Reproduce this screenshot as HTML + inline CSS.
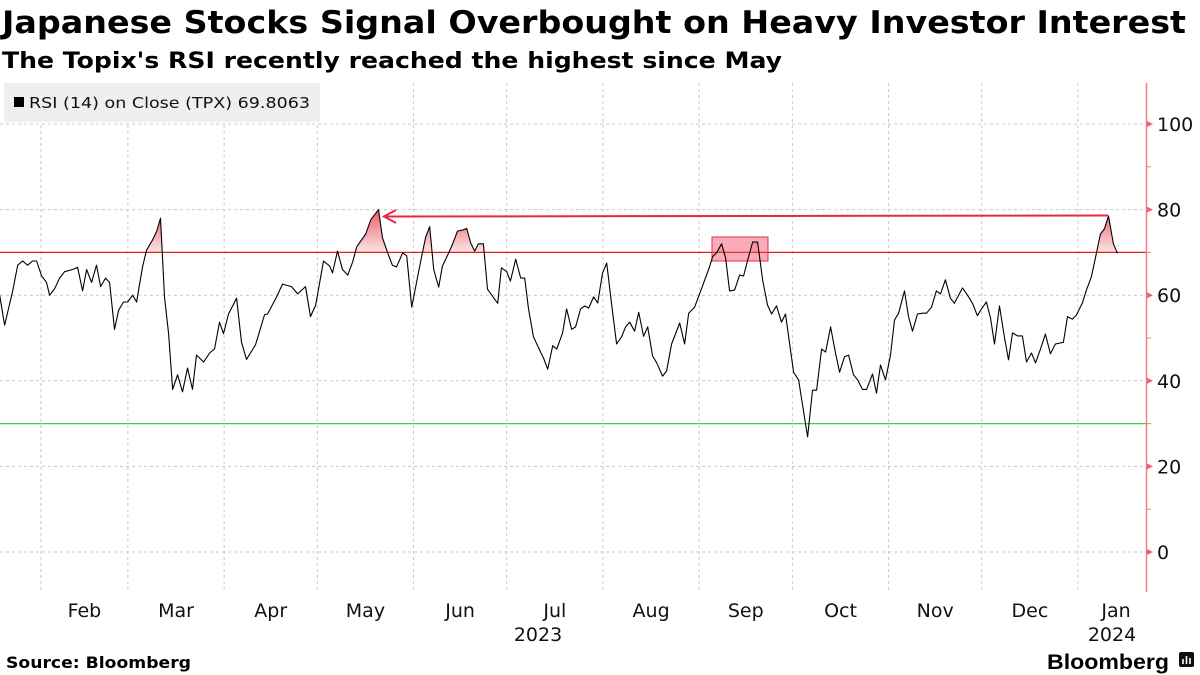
<!DOCTYPE html>
<html><head><meta charset="utf-8"><style>
html,body{margin:0;padding:0;background:#fff;width:1200px;height:675px;overflow:hidden}
svg{display:block;font-family:"DejaVu Sans","Liberation Sans",sans-serif}
</style></head><body>
<svg id="chart" width="1200" height="675" viewBox="0 0 1200 675">
<defs>
<linearGradient id="ob" gradientUnits="userSpaceOnUse" x1="0" y1="209" x2="0" y2="252"><stop offset="0" stop-color="#ee5a64"/><stop offset="1" stop-color="#fde3e4"/></linearGradient>
<clipPath id="above70"><rect id="clipRect" x="0" y="0" width="1146" height="0"/></clipPath>
<clipPath id="plotClip"><rect x="0" y="83" width="1146" height="510"/></clipPath>
</defs>
<text x="2" y="33" font-size="31" font-weight="bold" textLength="1184" lengthAdjust="spacingAndGlyphs">Japanese Stocks Signal Overbought on Heavy Investor Interest</text>
<text x="2" y="68" font-size="22" font-weight="bold" textLength="780" lengthAdjust="spacingAndGlyphs">The Topix's RSI recently reached the highest since May</text>
<g id="grid"></g>
<rect x="4" y="83" width="316" height="39" fill="#efefef"/>
<rect x="14" y="97" width="10" height="10" fill="#000"/>
<text x="29" y="108" font-size="15" fill="#111" textLength="281" lengthAdjust="spacingAndGlyphs">RSI (14)  on Close (TPX) 69.8063</text>
<g id="marks" clip-path="url(#plotClip)"></g>
<g id="axis"></g>
<g id="xaxis"></g>
<text x="6" y="668" font-size="16" font-weight="bold" textLength="185" lengthAdjust="spacingAndGlyphs">Source: Bloomberg</text>
<text x="1047" y="669" font-size="21" font-weight="bold" textLength="122" lengthAdjust="spacingAndGlyphs" font-family="Liberation Sans, sans-serif">Bloomberg</text>
<rect x="1179" y="652" width="15" height="15" rx="2" fill="#111"/>
<path d="M1183 664v-5M1186.5 664v-8M1190 664v-6" stroke="#fff" stroke-width="1.6"/>
</svg>
<script>
// day offset from 2023-01-01 (day 0), RSI values
const days=[17.7,19.3,21.9,23.5,25.1,26.7,28.3,29.6,31.2,32.8,33.8,35.4,37.0,38.6,41.2,42.8,44.4,45.7,47.3,48.9,50.2,51.8,53.1,54.7,56.0,57.6,58.9,60.5,61.8,63.7,65.0,67.0,68.3,69.5,70.8,72.1,73.4,75.0,76.6,78.2,79.8,81.1,83.4,85.3,86.9,88.5,89.8,91.4,94.0,95.6,97.2,100.1,103.0,104.0,106.9,108.8,111.7,113.7,116.2,117.8,119.5,122.0,124.0,124.9,126.5,128.1,129.8,131.4,132.7,135.6,137.2,139.7,141.0,142.6,144.2,145.5,147.5,148.8,150.4,153.6,154.9,156.2,157.5,159.1,160.3,162.0,163.2,165.2,166.8,168.1,169.4,170.7,171.9,173.5,174.8,176.4,178.1,179.3,181.0,182.2,183.9,185.5,186.8,188.0,189.6,191.6,192.9,194.2,195.8,197.1,199.0,200.3,201.9,203.2,204.8,206.1,207.4,209.0,210.3,211.9,213.2,214.8,216.4,218.0,219.3,220.6,222.2,223.5,225.1,226.4,228.0,229.3,231.2,232.5,234.1,236.7,238.3,239.6,241.5,244.1,246.3,247.3,248.6,250.2,251.5,252.8,254.4,256.0,257.3,258.6,260.2,261.8,263.4,265.0,266.3,267.9,269.5,270.8,273.4,275.0,277.9,279.5,280.8,282.4,283.7,285.3,286.9,288.2,289.8,291.1,292.7,294.0,295.6,296.9,298.8,300.1,301.4,303.0,304.6,305.9,307.2,309.1,310.4,311.7,313.3,314.9,316.2,317.8,319.4,320.7,322.3,323.9,325.2,327.8,329.4,331.0,332.6,333.9,335.5,336.8,338.1,339.7,341.3,342.6,343.9,345.5,347.1,348.4,350.0,351.3,352.9,354.5,356.1,357.7,360.3,361.6,363.2,364.5,366.4,367.7,369.3,370.6,372.2,373.5,374.8,376.4,377.7];
const rsi=[60,53,61,67,68,67,68,68,64.5,63,60,61.5,64,65.5,66,66.5,61,66,63,67,62,64,63,52,56.5,58.4,58.4,60,58.4,66.6,70.5,73,75,78,59.6,51,38,41.4,37.4,43,38,46,44.4,46.5,47.4,53.7,51,55.6,59.3,49,45,48.4,55.4,55.6,59.6,62.6,62,60.3,62,55,57.7,68,66.8,65.2,70.3,66,64.7,67.8,71.3,74.3,77.6,80,73.4,70,67,66.6,69.9,69.2,57.2,69,73.6,76,66,61.9,66.8,69.4,71.3,75,75.2,75.6,72.2,70.3,72,72,61.4,59.8,58.1,66.4,65.5,63.3,68.4,64,64,57,50.3,47.2,45.2,42.7,48.2,47.4,51.2,56.8,52,52.6,56.8,57.5,57,59.6,58.2,65.2,67.5,57.7,48.6,50.3,52.6,53.7,51.6,56,50.4,52.6,45.8,44.2,41.1,42.3,48.6,53.5,48.6,55.8,57.2,62.2,66.6,69,69.9,72,68.7,61,61.2,64.7,64.5,68.2,72.4,72.4,63.6,57.7,55.6,57.5,53.7,55.6,42,40.2,26.9,37.8,37.8,47.4,46.7,52.6,46.5,42,45.6,46,41.4,40.2,38,38,41.6,37.1,43.7,40.2,46,54.2,55.8,61,55,51.6,55.6,55.8,55.8,57.2,61,60.3,63.6,59.3,58.1,61.7,60,58.1,55.2,56.8,58.4,54.7,48.6,57.5,50.2,44.9,51.2,50.5,50.5,44.4,46.5,44.2,47.4,50.9,46.3,48.6,49,55,54.4,55.4,58.2,61.2,64.3,68.7,74.3,75.5,78.5,72,69.8];
const yTicks=[0,20,40,60,80,100];
const monthLabels=["Feb","Mar","Apr","May","Jun","Jul","Aug","Sep","Oct","Nov","Dec","Jan"];
const monthStarts=[31,59,90,120,151,181,212,243,273,304,334,365];
const yearLabels=["2023","2024"];
const NS="http://www.w3.org/2000/svg";
const X=d=>-55.3+d*3.105;
const Y=v=>552-v*4.28;
function mk(tag,attrs,parent){const e=document.createElementNS(NS,tag);for(const k in attrs)e.setAttribute(k,attrs[k]);parent.appendChild(e);return e;}
const grid=document.getElementById('grid'),marks=document.getElementById('marks'),axis=document.getElementById('axis'),xaxis=document.getElementById('xaxis');
for(const t of yTicks){const g=mk('line',{x1:0,x2:1146,y1:Y(t),y2:Y(t),stroke:'#c8c8c8','stroke-dasharray':'3,3','stroke-width':1},grid);

}
for(let i=0;i<monthStarts.length;i++){const g=mk('line',{x1:X(monthStarts[i]),x2:X(monthStarts[i]),y1:83,y2:592,stroke:'#c8c8c8','stroke-dasharray':'3,3','stroke-width':1},grid);


const next=i+1<monthStarts.length?monthStarts[i+1]:monthStarts[i]+27;
const lx=i<11?(X(monthStarts[i])+X(next))/2:1116;
const t=mk('text',{x:lx,y:617,'font-size':19,'text-anchor':'middle',fill:'#111'},xaxis);t.textContent=monthLabels[i];

}
const yl1=mk('text',{x:538,y:641,'font-size':19,'text-anchor':'middle',fill:'#111'},xaxis);yl1.textContent=yearLabels[0];


const yl2=mk('text',{x:1112,y:641,'font-size':19,'text-anchor':'middle',fill:'#111'},xaxis);yl2.textContent=yearLabels[1];


document.getElementById('clipRect').setAttribute('height',Y(70));
let pts=days.map((d,i)=>X(d).toFixed(1)+','+Y(rsi[i]).toFixed(1));
const area=mk('polygon',{points:X(days[0])+','+Y(70)+' '+pts.join(' ')+' '+X(days[days.length-1])+','+Y(70),fill:'url(#ob)','clip-path':'url(#above70)'},marks);


const l70=mk('line',{x1:0,x2:1146,y1:Y(70),y2:Y(70),stroke:'#e0201c','stroke-width':1.3},marks);


const l30=mk('line',{x1:0,x2:1146,y1:Y(30),y2:Y(30),stroke:'#3fd04a','stroke-width':1.3},marks);


const hl=mk('rect',{x:712,y:237,width:56,height:24,fill:'rgba(240,70,95,0.45)',stroke:'#e0304a','stroke-width':1},marks);


const line=mk('polyline',{points:pts.join(' '),fill:'none',stroke:'#000','stroke-width':1.1,'stroke-linejoin':'round'},marks);


const arr=mk('path',{d:'M1108 215.5 L384 216.5 M396 210 L384 216.5 L396 223',fill:'none',stroke:'#e8264a','stroke-width':2},marks);


mk('line',{x1:1146.5,x2:1146.5,y1:83,y2:592,stroke:'#f08080','stroke-width':1.5},axis);
for(let v=-10;v<=110;v+=10){const y=Y(v);if(y<83||y>592)continue;
if(v%20===0){mk('path',{d:`M1147 ${y-3} L1153 ${y} L1147 ${y+3}Z`,fill:'#f06070'},axis);
const t=mk('text',{x:1157,y:y+7,'font-size':19,fill:'#111'},axis);t.textContent=v;

}
else mk('line',{x1:1146,x2:1151,y1:y,y2:y,stroke:'#f08080','stroke-width':1},axis);}
</script>
</body></html>
